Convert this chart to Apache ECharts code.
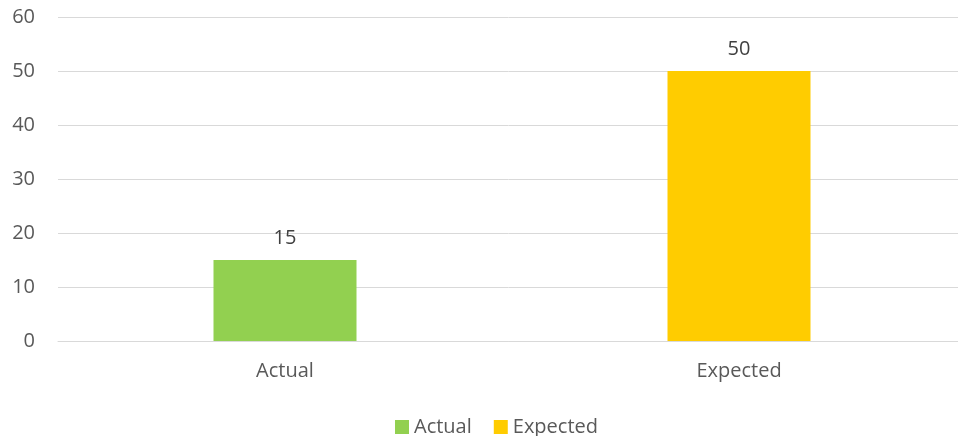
<!DOCTYPE html>
<html><head><meta charset="utf-8">
<script src="https://cdn.jsdelivr.net/npm/echarts@6/dist/echarts.min.js"></script>
<style>html,body{margin:0;padding:0;background:#fff}#c{width:958px;height:436px}</style>
</head><body><div id="c"></div>
<script>
var categories = ["Actual", "Expected"];
var actualValues = [15, "-"];
var expectedValues = ["-", 50];
var seriesNames = ["Actual", "Expected"];
var colors = ["#92D050", "#FFCC00"];
var font = "'Open Sans', 'Liberation Sans', sans-serif";
var txt = "#595959";
var chart = echarts.init(document.getElementById('c'));
function mk(name, data, color) {
  return {
    name: name, type: 'bar', stack: 's', data: data, barWidth: 143,
    itemStyle: { color: color },
    label: { show: true, position: 'top', distance: 12, color: '#404040', fontSize: 20, fontFamily: font }
  };
}
chart.setOption({
  animation: false,
  grid: { left: 58, width: 908, top: 17, height: 324, outerBoundsMode: 'none', containLabel: false },
  legend: {
    top: 417, left: 395, padding: 0, itemWidth: 14, itemHeight: 14, itemGap: 22,
    icon: 'rect', textStyle: { color: txt, fontSize: 20, fontFamily: font },
    data: seriesNames
  },
  xAxis: {
    type: 'category', data: categories,
    axisLine: { lineStyle: { color: '#d9d9d9', width: 1 } },
    axisTick: { show: false },
    axisLabel: { color: txt, fontSize: 20, fontFamily: font, margin: 20 }
  },
  yAxis: {
    type: 'value', min: 0, max: 60, interval: 10,
    axisLine: { show: false }, axisTick: { show: false },
    splitLine: { lineStyle: { color: '#d9d9d9', width: 1 } },
    axisLabel: { color: txt, fontSize: 20, fontFamily: font, margin: 23 }
  },
  series: [mk(seriesNames[0], actualValues, colors[0]), mk(seriesNames[1], expectedValues, colors[1])]
});
</script></body></html>
